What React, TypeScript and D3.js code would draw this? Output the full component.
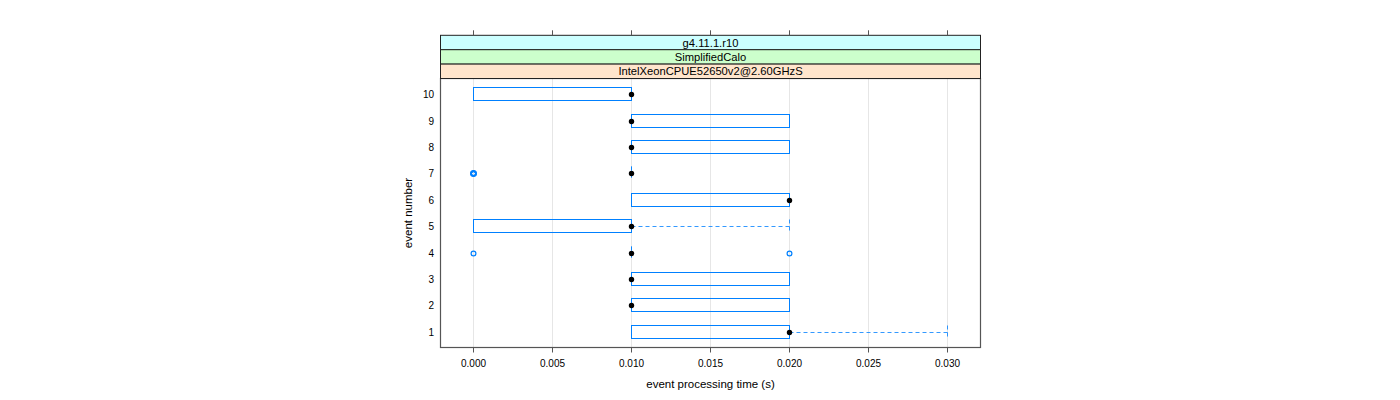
import React from "react";
import * as d3 from "d3";

const events = [1, 2, 3, 4, 5, 6, 7, 8, 9, 10];
const lowerWhisker = [0.01, 0.01, 0.01, 0.01, 0.0, 0.01, 0.01, 0.01, 0.01, 0.0];
const lowerHinge = [0.01, 0.01, 0.01, 0.01, 0.0, 0.01, 0.01, 0.01, 0.01, 0.0];
const medians = [0.02, 0.01, 0.01, 0.01, 0.01, 0.02, 0.01, 0.01, 0.01, 0.01];
const upperHinge = [0.02, 0.02, 0.02, 0.01, 0.01, 0.02, 0.01, 0.02, 0.02, 0.01];
const upperWhisker = [0.03, 0.02, 0.02, 0.01, 0.02, 0.02, 0.01, 0.02, 0.02, 0.01];
const outlierEvents = [4, 4, 7, 7, 7];
const outlierValues = [0.0, 0.02, 0.0, 0.0, 0.0];
const xTicks = [0.0, 0.005, 0.01, 0.015, 0.02, 0.025, 0.03];
const strips = ["g4.11.1.r10", "SimplifiedCalo", "IntelXeonCPUE52650v2@2.60GHzS"];
const stripColors = ["#ccffff", "#ccffcc", "#ffe5cc"];
const xLabel = "event processing time (s)";
const yLabel = "event number";

export default function App() {
  const left = 440.5, right = 980.5, top = 78.5, bottom = 347.5;
  const stripH = 14.4;
  const x = d3.scaleLinear().domain([-0.0021, 0.0321]).range([left, right]);
  const y = d3.scaleLinear().domain([0.4, 10.6]).range([bottom, top]);
  const px = (v: number) => Math.floor(x(v)) + 0.5;
  const py = (v: number) => Math.round(y(v)) + 0.5;
  const boxH = 13;
  const blue = "#0080ff";
  const font = "'Liberation Sans', Arial, sans-serif";
  const fmt = d3.format(".3f");
  const stripTop = top - stripH * strips.length;

  const counts = d3.rollup(
    outlierEvents.map((e, i) => [e, outlierValues[i]] as [number, number]),
    (v) => v.length,
    (d) => d[0] + ":" + d[1]
  );

  return (
    <svg width={1400} height={400} style={{ position: "absolute", left: 0, top: 0 }} fontFamily={font}>
      <rect x={0} y={0} width={1400} height={400} fill="#fff" />
      {xTicks.map((t) => (
        <line key={"g" + t} x1={px(t)} x2={px(t)} y1={top} y2={bottom} stroke="#e6e6e6" strokeWidth={1} />
      ))}
      {events.map((e, i) => {
        const cy = Math.round(y(e));
        const x1 = px(lowerHinge[i]), x2 = px(upperHinge[i]);
        const yt = cy - boxH / 2;
        return (
          <g key={"b" + e}>
            <rect x={x1} y={yt} width={x2 - x1} height={boxH} fill="none" stroke={blue} strokeWidth={1} />
            <line x1={px(lowerHinge[i])} x2={px(lowerWhisker[i])} y1={cy + 0.5} y2={cy + 0.5} stroke={blue} strokeOpacity={0.8} strokeDasharray="4,3" />
            <line x1={px(upperHinge[i])} x2={px(upperWhisker[i])} y1={cy + 0.5} y2={cy + 0.5} stroke={blue} strokeOpacity={0.8} strokeDasharray="4,3" />
            <line x1={px(lowerWhisker[i])} x2={px(lowerWhisker[i])} y1={yt} y2={yt + boxH} stroke={blue} strokeOpacity={0.8} strokeDasharray="4,3" />
            <line x1={px(upperWhisker[i])} x2={px(upperWhisker[i])} y1={yt} y2={yt + boxH} stroke={blue} strokeOpacity={0.8} strokeDasharray="4,3" />
            <circle cx={px(medians[i])} cy={cy + 0.5} r={2.7} fill="#000" />
          </g>
        );
      })}
      {outlierEvents.map((e, i) => {
        const c = counts.get(e + ":" + outlierValues[i]) || 1;
        return (
          <circle key={"o" + i} cx={px(outlierValues[i])} cy={py(e)} r={2.4} fill="none" stroke={blue} strokeWidth={c > 1 ? 1.7 : 1.2} />
        );
      })}
      <rect x={left} y={top} width={right - left} height={bottom - top} fill="none" stroke="#555" strokeWidth={1.2} />
      {strips.map((s, i) => {
        const sy = stripTop + i * stripH;
        return (
          <g key={"s" + i}>
            <rect x={left} y={sy} width={right - left} height={stripH} fill={stripColors[i]} stroke="#222" strokeWidth={1} />
            <text x={(left + right) / 2} y={sy + stripH / 2} dy="0.36em" textAnchor="middle" fontSize={11.2} fill="#000">{s}</text>
          </g>
        );
      })}
      {xTicks.map((t) => (
        <g key={"t" + t}>
          <line x1={px(t)} x2={px(t)} y1={bottom} y2={bottom + 5} stroke="#555" />
          <line x1={px(t)} x2={px(t)} y1={stripTop} y2={stripTop - 5} stroke="#555" />
          <text x={px(t)} y={363} dy="0.36em" textAnchor="middle" fontSize={10} fill="#000">{fmt(t)}</text>
        </g>
      ))}
      {events.map((e) => (
        <text key={"yl" + e} x={434} y={py(e)} dy="0.36em" textAnchor="end" fontSize={10} fill="#000">{e}</text>
      ))}
      <text x={(left + right) / 2} y={384} dy="0.36em" textAnchor="middle" fontSize={11.5} fill="#000">{xLabel}</text>
      <text transform={`translate(407.5,${(top + bottom) / 2}) rotate(-90)`} dy="0.36em" textAnchor="middle" fontSize={11.5} fill="#000">{yLabel}</text>
    </svg>
  );
}
